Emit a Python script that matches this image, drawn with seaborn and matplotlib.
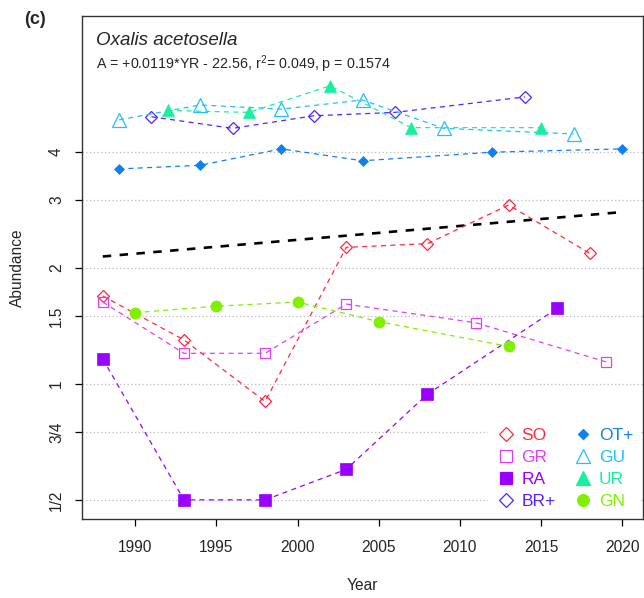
import matplotlib
matplotlib.use("Agg")
import matplotlib.pyplot as plt
from matplotlib.lines import Line2D
import seaborn as sns
import pandas as pd

# ---------------- data ----------------
so_years = [1988, 1993, 1998, 2003, 2008, 2013, 2018]
so_vals = [1.69, 1.30, 0.90, 2.26, 2.31, 2.91, 2.18]

gr_years = [1988, 1993, 1998, 2003, 2011, 2019]
gr_vals = [1.63, 1.20, 1.20, 1.61, 1.44, 1.14]

ra_years = [1988, 1993, 1998, 2003, 2008, 2016]
ra_vals = [1.16, 0.50, 0.50, 0.60, 0.94, 1.57]

br_years = [1991, 1996, 2001, 2006, 2014]
br_vals = [4.93, 4.60, 4.96, 5.06, 5.55]

ot_years = [1989, 1994, 1999, 2004, 2012, 2020]
ot_vals = [3.61, 3.69, 4.07, 3.79, 3.99, 4.07]

gu_years = [1989, 1994, 1999, 2004, 2009, 2017]
gu_vals = [4.84, 5.29, 5.16, 5.45, 4.60, 4.45]

ur_years = [1992, 1997, 2002, 2007, 2015]
ur_vals = [5.12, 5.06, 5.93, 4.62, 4.62]

gn_years = [1990, 1995, 2000, 2005, 2013]
gn_vals = [1.53, 1.59, 1.63, 1.45, 1.25]

trend_years = [1988, 2020]
trend_vals = [2.14, 2.79]

series_names = ["SO", "GR", "RA", "BR+", "OT+", "GU", "UR", "GN"]
ytick_vals = [0.5, 0.75, 1, 1.5, 2, 3, 4]
ytick_labels = ["1/2", "3/4", "1", "1.5", "2", "3", "4"]
xtick_vals = [1990, 1995, 2000, 2005, 2010, 2015, 2020]

title_text = "Oxalis acetosella"
formula_text = "A = +0.0119*YR - 22.56, r$^{2}$= 0.049, p = 0.1574"
panel_label = "(c)"

# ---------------- styles ----------------
styles = {
    "SO":  dict(color="#FF2840", marker="D", ms=6.6, filled=False),
    "GR":  dict(color="#E040F0", marker="s", ms=7.6, filled=False),
    "RA":  dict(color="#9A00FF", marker="s", ms=8.0, filled=True),
    "BR+": dict(color="#5522FF", marker="D", ms=6.6, filled=False),
    "OT+": dict(color="#1080F0", marker="D", ms=4.6, filled=True),
    "GU":  dict(color="#20C0FF", marker="^", ms=9.5, filled=False),
    "UR":  dict(color="#18F0A0", marker="^", ms=9.0, filled=True),
    "GN":  dict(color="#80F000", marker="o", ms=8.0, filled=True),
}
data = {
    "SO": (so_years, so_vals), "GR": (gr_years, gr_vals),
    "RA": (ra_years, ra_vals), "BR+": (br_years, br_vals),
    "OT+": (ot_years, ot_vals), "GU": (gu_years, gu_vals),
    "UR": (ur_years, ur_vals), "GN": (gn_years, gn_vals),
}

sns.set_style("ticks")
plt.rcParams["font.family"] = ["Liberation Sans", "DejaVu Sans"]
plt.rcParams["mathtext.fontset"] = "custom"
plt.rcParams["mathtext.rm"] = "Liberation Sans"

fig = plt.figure(figsize=(6.44, 5.98), dpi=100)
ax = fig.add_axes([82 / 644, 1 - 519 / 598, 561 / 644, 503 / 598])

ax.set_yscale("log", base=2)

# grid lines at y ticks
for v in ytick_vals:
    ax.axhline(v, color="#BDBDBD", lw=0.9, ls=(0, (1, 2)), zorder=0)

# trend line
trend_df = pd.DataFrame({"Year": trend_years, "Abundance": trend_vals})
sns.lineplot(data=trend_df, x="Year", y="Abundance", ax=ax, color="black",
             lw=1.9, dashes=False, linestyle=(0, (3.2, 3.2)), zorder=2)

for name in series_names:
    yrs, vals = data[name]
    st = styles[name]
    df = pd.DataFrame({"Year": yrs, "Abundance": vals})
    sns.lineplot(data=df, x="Year", y="Abundance", ax=ax, color=st["color"],
                 lw=0.9, linestyle=(0, (4, 3.5)), marker=st["marker"],
                 markersize=st["ms"],
                 markerfacecolor=st["color"] if st["filled"] else "none",
                 markeredgecolor=st["color"], markeredgewidth=0.9 if not st["filled"] else 0.5,
                 sort=False, estimator=None, zorder=3)

ax.set_xlim(1986.72, 2021.28)
ax.set_ylim(0.446, 9.0)
ax.set_xticks(xtick_vals)
ax.set_xticklabels([str(x) for x in xtick_vals])
ax.set_yticks(ytick_vals)
ax.set_yticklabels(ytick_labels)
ax.yaxis.set_minor_locator(matplotlib.ticker.NullLocator())
ax.tick_params(axis="both", which="major", labelsize=11.2, length=5, width=0.9,
               color="black", direction="out")
ax.tick_params(axis="x", pad=10)
ax.tick_params(axis="y", pad=8, labelrotation=90)
for lab in ax.get_yticklabels():
    lab.set_va("center")

for sp in ax.spines.values():
    sp.set_visible(True)
    sp.set_color("#333333")
    sp.set_linewidth(1.0)

ax.set_xlabel("Year", fontsize=11.2, labelpad=17)
ax.set_ylabel("Abundance", fontsize=11.2, labelpad=17)

ax.text(0.025, 0.952, title_text, transform=ax.transAxes, fontsize=13.5,
        style="italic", va="center", ha="left")
ax.text(0.025, 0.905, formula_text, transform=ax.transAxes, fontsize=10.3,
        va="center", ha="left")
fig.text(24 / 644, 1 - 20 / 598, panel_label, fontsize=13, fontweight="bold",
         va="center", ha="left")

# legend
handles = []
for name in series_names:
    st = styles[name]
    handles.append(Line2D([], [], ls="none", marker=st["marker"],
                          markersize=st["ms"] * 1.05, color=st["color"],
                          markerfacecolor=st["color"] if st["filled"] else "none",
                          markeredgecolor=st["color"], markeredgewidth=0.9))
leg = ax.legend(handles, series_names, ncol=2, loc="lower right",
                bbox_to_anchor=(1.0, 0.0), frameon=True, facecolor="white",
                edgecolor="none", framealpha=1.0, fontsize=12.5,
                handletextpad=0.3, columnspacing=1.0, labelspacing=0.4,
                borderpad=0.4, handlelength=1.2, borderaxespad=0.15)
leg.get_frame().set_boxstyle("square", pad=0)
leg.set_zorder(10)
for txt, name in zip(leg.get_texts(), series_names):
    txt.set_color(styles[name]["color"])

fig.savefig("out.png", dpi=100)
